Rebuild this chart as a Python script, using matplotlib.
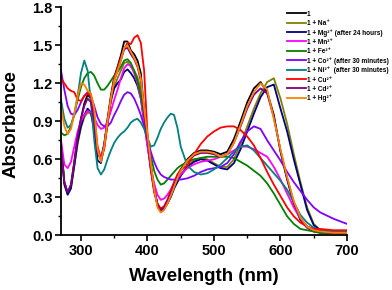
import numpy as np
import matplotlib
matplotlib.use("Agg")
import matplotlib.pyplot as plt
from matplotlib.ticker import MultipleLocator, FormatStrFormatter

plt.rcParams['font.family'] = ['Liberation Sans', 'DejaVu Sans']
plt.rcParams['font.weight'] = 'bold'

wavelength = [270, 275, 280, 285, 290, 295, 300, 305, 310, 315,
              320, 325, 330, 335, 340, 345, 350, 355, 360, 365,
              370, 375, 380, 385, 390, 395, 400, 405, 410, 415,
              420, 425, 430, 435, 440, 445, 450,
              460, 470, 480, 490, 500, 510, 520, 530, 540, 550,
              560, 570, 580, 590, 600, 610, 620, 630, 640, 650, 660,
              680, 700]

abs_1 = [.72, .42, .33, .40, .58, .78, .92, 1.04, 1.11, 1.08,
         .92, .66, .60, .72, .92, 1.10, 1.25, 1.33, 1.42, 1.53,
         1.53, 1.46, 1.43, 1.38, 1.28, .98, .78, .56, .37, .24,
         .19, .22, .27, .33, .40, .46, .52,
         .60, .65, .67, .67, .66, .64, .66, .76, .90, 1.05,
         1.16, 1.21, 1.13, .95, .66, .44, .25, .12, .06, .03, .02,
         .02, .02]

abs_na = [.74, .42, .33, .38, .55, .72, .85, .93, .97, .96,
          .86, .66, .60, .70, .88, 1.05, 1.17, 1.24, 1.30, 1.36,
          1.37, 1.33, 1.30, 1.25, 1.15, .92, .74, .54, .36, .24,
          .20, .21, .25, .31, .37, .43, .48,
          .55, .59, .61, .60, .57, .54, .54, .60, .72, .86,
          1.00, 1.12, 1.21, 1.24, 1.08, .88, .64, .42, .22, .09, .04,
          .02, .02]

abs_mg = [.72, .40, .32, .37, .55, .74, .86, .95, 1.00, .97,
          .82, .59, .57, .70, .90, 1.07, 1.16, 1.20, 1.23, 1.29,
          1.31, 1.28, 1.24, 1.18, 1.08, .90, .72, .52, .36, .25,
          .20, .21, .25, .30, .37, .42, .47,
          .54, .58, .60, .59, .56, .53, .52, .57, .68, .82,
          .96, 1.09, 1.17, 1.19, 1.00, .82, .60, .40, .20, .08, .04,
          .02, .02]

abs_mn = [.75, .56, .53, .58, .70, .82, .90, .95, .98, .97,
          .93, .87, .84, .85, .90, .98, 1.07, 1.15, 1.24, 1.32,
          1.35, 1.34, 1.28, 1.20, 1.08, .88, .70, .54, .41, .32,
          .28, .29, .32, .36, .41, .45, .48,
          .53, .56, .58, .59, .60, .62, .64, .67, .70, .70,
          .68, .65, .62, .54, .44, .33, .22, .13, .06, .04, .03,
          .02, .02]

abs_fe = [.81, .79, .80, .86, .96, 1.07, 1.17, 1.24, 1.28, 1.29,
          1.26, 1.20, 1.15, 1.15, 1.18, 1.22, 1.26, 1.29, 1.33, 1.38,
          1.39, 1.36, 1.30, 1.22, 1.10, .94, .78, .63, .51, .44,
          .40, .41, .44, .47, .50, .53, .55,
          .58, .60, .61, .62, .62, .62, .62, .61, .58, .55,
          .51, .47, .41, .33, .24, .15, .09, .05, .04, .03, .02,
          .02, .02]

abs_co = [1.30, 1.15, 1.02, .96, .95, .99, 1.05, 1.10, 1.13, 1.10,
          1.02, .93, .88, .86, .86, .89, .95, 1.00, 1.06, 1.11,
          1.13, 1.12, 1.08, 1.02, .95, .86, .76, .66, .58, .52,
          .48, .46, .45, .44, .44, .44, .44,
          .45, .47, .50, .52, .53, .54, .57, .64, .74, .82,
          .86, .84, .75, .67, .59, .50, .42, .35, .28, .22, .18,
          .13, .09]

abs_ni = [1.07, .92, .85, .87, .95, 1.10, 1.28, 1.38, 1.30, 1.05,
          .75, .53, .48, .52, .60, .67, .73, .77, .80, .82,
          .85, .89, .91, .92, .89, .84, .77, .70, .71, .77,
          .84, .89, .93, .96, .95, .85, .70,
          .55, .50, .48, .49, .52, .56, .61, .66, .70, .71,
          .67, .61, .55, .49, .43, .36, .26, .16, .10, .06, .04,
          .03, .03]

abs_cu = [1.24, 1.20, 1.16, 1.14, 1.13, 1.07, 1.06, 1.10, 1.12, 1.10,
          .95, .70, .61, .68, .88, 1.08, 1.24, 1.32, 1.40, 1.47,
          1.52, 1.51, 1.56, 1.58, 1.52, 1.30, .80, .52, .34, .25,
          .21, .23, .28, .35, .42, .48, .52,
          .55, .64, .72, .78, .82, .85, .86, .86, .83, .78,
          .71, .61, .50, .40, .31, .22, .15, .10, .07, .05, .05,
          .04, .04]

abs_cd = [.70, .42, .34, .40, .58, .78, .92, 1.02, 1.08, 1.05,
          .90, .65, .60, .72, .90, 1.08, 1.22, 1.30, 1.38, 1.47,
          1.48, 1.43, 1.39, 1.33, 1.22, .96, .76, .55, .37, .24,
          .20, .22, .27, .33, .40, .46, .51,
          .59, .63, .65, .65, .64, .62, .64, .73, .86, 1.00,
          1.11, 1.16, 1.12, .93, .67, .45, .26, .13, .07, .04, .03,
          .02, .02]

abs_hg = [1.02, .86, .80, .84, .96, 1.10, 1.20, 1.19, 1.14, 1.12,
          1.00, .68, .58, .70, .90, 1.08, 1.22, 1.30, 1.38, 1.48,
          1.50, 1.45, 1.40, 1.34, 1.24, 1.00, .80, .57, .37, .22,
          .18, .20, .25, .31, .38, .45, .51,
          .59, .64, .66, .66, .65, .62, .64, .73, .87, 1.02,
          1.13, 1.20, 1.15, .92, .68, .46, .27, .14, .07, .04, .03,
          .02, .02]

series = [abs_1, abs_na, abs_mg, abs_mn, abs_fe, abs_co, abs_ni, abs_cu, abs_cd, abs_hg]
labels = ['1', '1 + Na⁺', '1 + Mg²⁺ (after 24 hours)', '1 + Mn²⁺', '1 + Fe²⁺',
          '1 + Co²⁺ (after 30 minutes)', '1 + Ni²⁺  (after 30 minutes)',
          '1 + Cu²⁺', '1 + Cd²⁺', '1 + Hg²⁺']
colors = ['#000000', '#808000', '#000080', '#ff00ff', '#008000',
          '#8000ff', '#008080', '#ff0000', '#800080', '#ff8000']

fig = plt.figure(figsize=(3.92, 2.90), dpi=100)
ax = fig.add_axes([61 / 392, 1 - 235.3 / 290, 286 / 392, 228 / 290])

for y, lab, c in zip(series, labels, colors):
    ax.plot(wavelength, y, color=c, lw=1.3, label=lab)

ax.set_xlim(270, 700)
ax.set_ylim(0, 1.8)
ax.xaxis.set_major_locator(MultipleLocator(100))
ax.xaxis.set_minor_locator(MultipleLocator(50))
ax.yaxis.set_major_locator(MultipleLocator(0.3))
ax.yaxis.set_minor_locator(MultipleLocator(0.15))
ax.yaxis.set_major_formatter(FormatStrFormatter('%.1f'))
ax.spines['top'].set_visible(False)
ax.spines['right'].set_visible(False)
for s in ['left', 'bottom']:
    ax.spines[s].set_linewidth(1.3)
ax.tick_params(which='major', direction='out', length=4, width=1.2, labelsize=10.5, pad=2)
ax.tick_params(which='minor', direction='out', length=2.5, width=1.0)

ax.set_xlabel('Wavelength (nm)', fontsize=13.5, fontweight='bold')
ax.set_ylabel('Absorbance', fontsize=13.5, fontweight='bold')
ax.xaxis.set_label_coords(0.5, -0.143)
ax.yaxis.set_label_coords(-0.145, 0.49)

ax.legend(loc='upper left', bbox_to_anchor=(0.733, 0.963), bbox_transform=fig.transFigure,
          frameon=False, fontsize=4.7, handlelength=2.8, handletextpad=0.2,
          labelspacing=0.32, borderpad=0, borderaxespad=0)

fig.savefig('out.png', dpi=100)
